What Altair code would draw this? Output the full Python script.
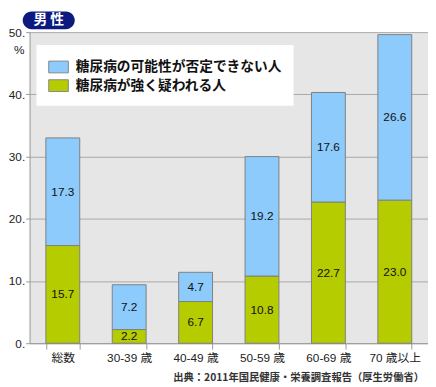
import altair as alt
import pandas as pd

categories = ["総数", "30-39 歳", "40-49 歳", "50-59 歳", "60-69 歳", "70 歳以上"]
series_names = ["糖尿病の可能性が否定できない人", "糖尿病が強く疑われる人"]
possible = [17.3, 7.2, 4.7, 19.2, 17.6, 26.6]
strong = [15.7, 2.2, 6.7, 10.8, 22.7, 23.0]
colors = ["#8ccbfb", "#b4cc00"]
y_ticks = [0, 10, 20, 30, 40, 50]
badge_text = "男 性"
source_text = "出典：2011年国民健康・栄養調査報告（厚生労働省）"

rows = []
for i, c in enumerate(categories):
    rows.append({"cat": c, "series": series_names[1], "value": strong[i], "ord": 0})
    rows.append({"cat": c, "series": series_names[0], "value": possible[i], "ord": 1})
df = pd.DataFrame(rows)

FONT = "Liberation Sans, Arial, Noto Sans CJK JP"
JFONT = "Noto Sans CJK JP, Liberation Sans"

base = alt.Chart(df).transform_stack(
    stack="value", groupby=["cat"], sort=[alt.SortField("ord")], as_=["v0", "v1"]
).transform_calculate(mid="(datum.v0 + datum.v1) / 2")

xenc = alt.X(
    "cat:N", sort=categories, title=None,
    scale=alt.Scale(paddingInner=0.49, paddingOuter=0.245),
    axis=alt.Axis(labelAngle=0, tickBand="extent", tickSize=6, tickColor="#999999",
                  domainColor="#999999", labelFontSize=12, labelFont=FONT,
                  labelColor="#222222", labelPadding=4),
)

bars = base.mark_bar(stroke="#808080", strokeWidth=1).encode(
    x=xenc,
    y=alt.Y("v0:Q", scale=alt.Scale(domain=[0, 50], nice=False),
            axis=alt.Axis(values=y_ticks, title="%", titleAngle=0, titleX=-11, titleY=18,
                          titleAlign="center", titleBaseline="middle", titleFontSize=12,
                          titleFontWeight="normal", titleFont=FONT, titleColor="#222222",
                          labelExpr="datum.label + '.'", labelFontSize=12, labelFont=FONT,
                          labelColor="#222222", labelPadding=1, tickSize=4,
                          tickColor="#999999", domainColor="#999999",
                          gridColor="#a8a8a8", grid=True)),
    y2="v1:Q",
    color=alt.Color("series:N", scale=alt.Scale(domain=series_names, range=colors),
                    legend=alt.Legend(title=None, orient="none", legendX=7, legendY=13,
                                      fillColor="white", padding=12,
                                      symbolType="M-1,-0.6H1V0.6H-1Z", symbolSize=400,
                                      symbolStrokeColor="#888888", symbolStrokeWidth=1,
                                      symbolOpacity=1, labelFont=JFONT, labelFontSize=14,
                                      labelFontWeight="bold", labelColor="#111111",
                                      labelOffset=7, rowPadding=0, labelLimit=300)),
)

labels = base.mark_text(fontSize=12, font=FONT, color="#111111").encode(
    x=alt.X("cat:N", sort=categories),
    y=alt.Y("mid:Q"),
    text=alt.Text("value:Q", format=".1f"),
)

badge_df = pd.DataFrame({"t": [badge_text]})
badge = alt.Chart(badge_df).mark_rect(fill="#0c1a80", cornerRadius=9).encode(
    x=alt.value(-7), x2=alt.value(46), y=alt.value(-21), y2=alt.value(-3)
)
badge_txt = alt.Chart(badge_df).mark_text(
    color="white", fontWeight="bold", fontSize=14, font=JFONT, baseline="middle", align="center"
).encode(x=alt.value(19.5), y=alt.value(-12), text="t:N")

src_df = pd.DataFrame({"t": [source_text]})
src = alt.Chart(src_df).mark_text(
    fontSize=10.5, fontWeight="bold", font=JFONT, color="#333333", align="right",
    baseline="middle"
).encode(x=alt.value(402), y=alt.value(352), text="t:N")

chart = alt.layer(bars, labels, badge, badge_txt, src).properties(
    width=406, height=317,
    autosize=alt.AutoSizeParams(type="none"),
    padding={"left": 22, "top": 21, "right": 0, "bottom": 41},
).configure_view(fill="#e6e6e6", stroke=None)

chart.save("out.html", embed_options={"renderer": "svg", "actions": False})
